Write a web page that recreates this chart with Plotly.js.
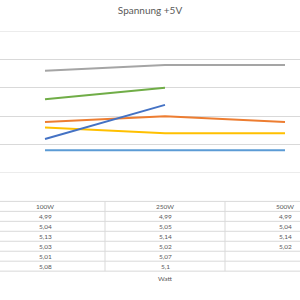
<!DOCTYPE html>
<html>
<head>
<meta charset="utf-8">
<script src="https://cdn.plot.ly/plotly-3.0.1.min.js"></script>
<style>html,body{margin:0;padding:0;background:#fff}#chart{width:300px;height:300px}</style>
</head>
<body>
<div id="chart"></div>
<script>
// Watt load points
const categories = ['100W', '250W', '500W'];

// +5V readings per test row (null = not measured)
const row1 = [4.99, 4.99, 4.99];
const row2 = [5.04, 5.05, 5.04];
const row3 = [5.13, 5.14, 5.14];
const row4 = [5.03, 5.02, 5.02];
const row5 = [5.01, 5.07, null];
const row6 = [5.08, 5.1, null];

const rows = [row1, row2, row3, row4, row5, row6];
const colors = ['#5B9BD5', '#ED7D31', '#A5A5A5', '#FFC000', '#4472C4', '#70AD47'];

const idx = categories.map((_, i) => i);

const traces = rows.map((vals, r) => ({
  type: 'scatter',
  mode: 'lines',
  x: idx.filter(i => vals[i] !== null),
  y: vals.filter(v => v !== null),
  line: { color: colors[r], width: 2 },
  hoverinfo: 'skip',
  showlegend: false
}));

// plot area in pixels: top 31, bottom 173.5
const TOP = 31, BOTTOM = 173.5;
const py = p => (BOTTOM - p) / (BOTTOM - TOP);

const gridCol = '#d9d9d9';
const textCol = '#595959';
const font = 'Lato, "Open Sans", sans-serif';

const shapes = [];
const annotations = [];

// gridlines at the range edges
[4.95, 5.20].forEach(v => shapes.push({
  type: 'line', xref: 'paper', yref: 'y', x0: 0, x1: 1, y0: v, y1: v,
  line: { color: gridCol, width: 1 }, layer: 'below'
}));

// data table grid below the plot
const rowLines = [202, 212, 222, 232, 242, 252, 262, 272];
rowLines.forEach(p => shapes.push({
  type: 'line', xref: 'paper', yref: 'paper', x0: 0, x1: 1, y0: py(p), y1: py(p),
  line: { color: gridCol, width: 1 }
}));
[0.5, 1.5].forEach(xv => shapes.push({
  type: 'line', xref: 'x', yref: 'paper', x0: xv, x1: xv, y0: py(202), y1: py(272),
  line: { color: gridCol, width: 1 }
}));

const fmt = v => String(v).replace('.', ',');

categories.forEach((c, i) => {
  annotations.push({
    x: i, y: py(207.5), xref: 'x', yref: 'paper', text: c, showarrow: false,
    font: { family: font, size: 6.5, color: textCol }, yanchor: 'middle', xanchor: 'center'
  });
  rows.forEach((vals, r) => {
    if (vals[i] === null) return;
    annotations.push({
      x: i, y: py(217.5 + r * 10), xref: 'x', yref: 'paper', text: fmt(vals[i]), showarrow: false,
      font: { family: font, size: 6.5, color: textCol }, yanchor: 'middle', xanchor: 'center'
    });
  });
});

annotations.push({
  x: 1, y: py(279), xref: 'x', yref: 'paper', text: 'Watt', showarrow: false,
  font: { family: font, size: 6.5, color: textCol }, yanchor: 'middle', xanchor: 'center'
});

const layout = {
  width: 300, height: 300,
  margin: { l: 0, r: 0, t: TOP, b: 300 - BOTTOM },
  paper_bgcolor: '#fff', plot_bgcolor: '#fff',
  title: {
    text: 'Spannung +5V',
    font: { family: font, size: 10, color: textCol },
    x: 0.5, xanchor: 'center', y: 1 - 10 / 300, yanchor: 'middle', yref: 'container'
  },
  xaxis: {
    range: [-0.375, 2.125], showgrid: false, zeroline: false,
    showticklabels: false, showline: false, ticks: ''
  },
  yaxis: {
    range: [4.95, 5.20], dtick: 0.05, tick0: 4.95,
    showgrid: true, gridcolor: gridCol, gridwidth: 1,
    zeroline: false, showticklabels: false, showline: false, ticks: ''
  },
  shapes: shapes,
  annotations: annotations
};

Plotly.newPlot('chart', traces, layout, { staticPlot: true, displayModeBar: false });
</script>
</body>
</html>
